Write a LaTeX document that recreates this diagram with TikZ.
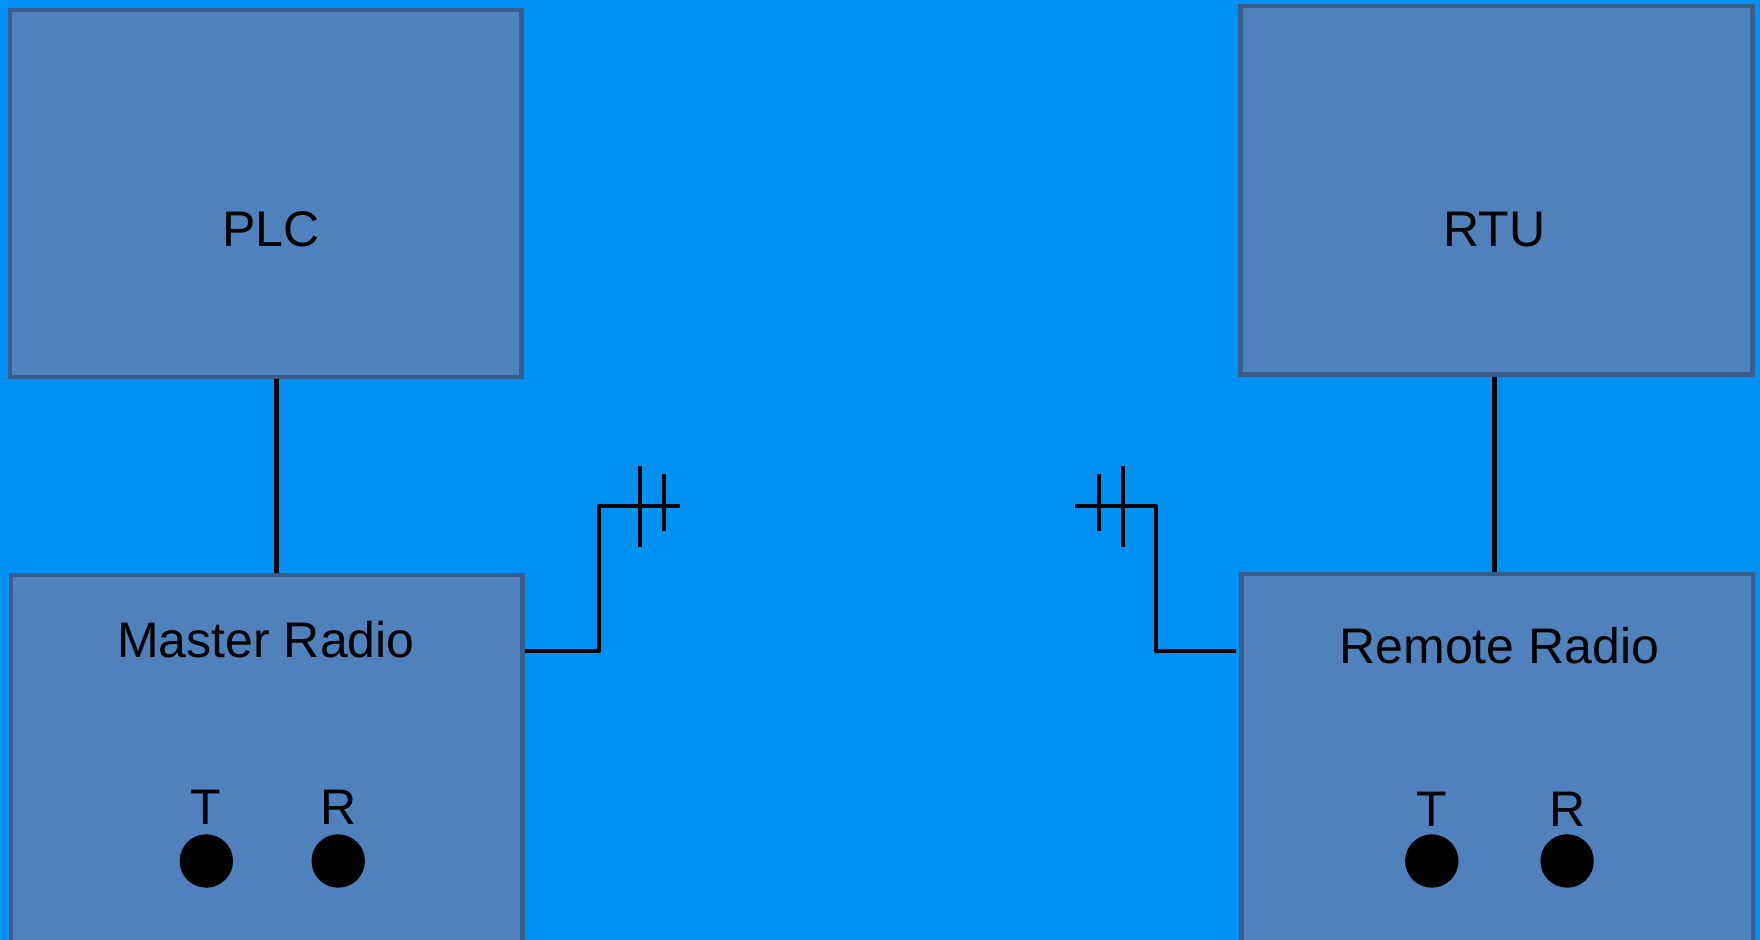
\documentclass[tikz,border=0pt]{standalone}
\usepackage{fontspec}
\setmainfont{Liberation Sans}
\definecolor{bg}{RGB}{0,145,245}
\definecolor{boxfill}{RGB}{79,129,189}
\definecolor{boxline}{RGB}{56,93,138}
\begin{document}
\begin{tikzpicture}[x=0.5pt,y=-0.5pt,
  unit/.style={draw=boxline, fill=boxfill, line width=2.3pt, inner sep=0pt, rectangle},
  lbl/.style={font=\fontsize{25}{30}\selectfont, inner sep=0pt, anchor=base, text=black},
  wire/.style={line width=2.2pt, black, line join=round},
  port/.style={circle, fill=black, inner sep=0pt, minimum size=26.7pt}]
\fill[bg] (0,0) rectangle (1760,940);
\useasboundingbox (0,0) rectangle (1760,940);
\clip (0,0) rectangle (1760,940);
% boxes
\node[unit, minimum width=255.7pt, minimum height=183.5pt] (plc) at (265.7,193.5) {};
\node[unit, minimum width=255.85pt, minimum height=184.15pt] (rtu) at (1496.55,190.15) {};
\node[unit, minimum width=255.7pt, minimum height=212.5pt] (master) at (266.7,787.5) {};
\node[unit, minimum width=255.65pt, minimum height=213pt] (remote) at (1497.35,787) {};
% labels
\node[lbl] (plct) at (271.2,246.7) {PLC};
\node[lbl] (rtut) at (1494.5,246.7) {RTU};
\node[lbl] (mastert) at (266,657) {Master Radio};
\node[lbl] (remotet) at (1499.3,663.3) {Remote Radio};
\node[lbl] (mT) at (205.9,824) {T};
\node[lbl] (mR) at (338.5,824) {R};
\node[lbl] (rT) at (1431.8,826.7) {T};
\node[lbl] (rR) at (1567.1,826.7) {R};
% ports
\node[port] (mtp) at (206.3,861) {};
\node[port] (mrp) at (338.2,861) {};
\node[port] (rtp) at (1431.8,861) {};
\node[port] (rrp) at (1567.1,861) {};
% vertical links
\coordinate (a1) at (276.5,0);
\coordinate (b1) at (1494.5,0);
\draw[wire] (plc.south -| a1) -- (master.north -| a1);
\draw[wire] (rtu.south -| b1) -- (remote.north -| b1);
% antenna feeds
\coordinate (y1) at (0,651);
\coordinate (mk) at (599,506);
\coordinate (mend) at (680,506);
\coordinate (rk) at (1156,506);
\coordinate (rend) at (1075,506);
\draw[wire] (master.east |- y1) -- (mk |- y1) -- (mk) -- (mend);
\draw[wire] (remote.west |- y1) ++(-3,0) -- (rk |- y1) -- (rk) -- (rend);
% antenna ticks
\draw[wire] (640,466) -- (640,547);
\draw[wire] (664,474) -- (664,531);
\draw[wire] (1123,466) -- (1123,547);
\draw[wire] (1099,474) -- (1099,531);
\end{tikzpicture}
\end{document}
